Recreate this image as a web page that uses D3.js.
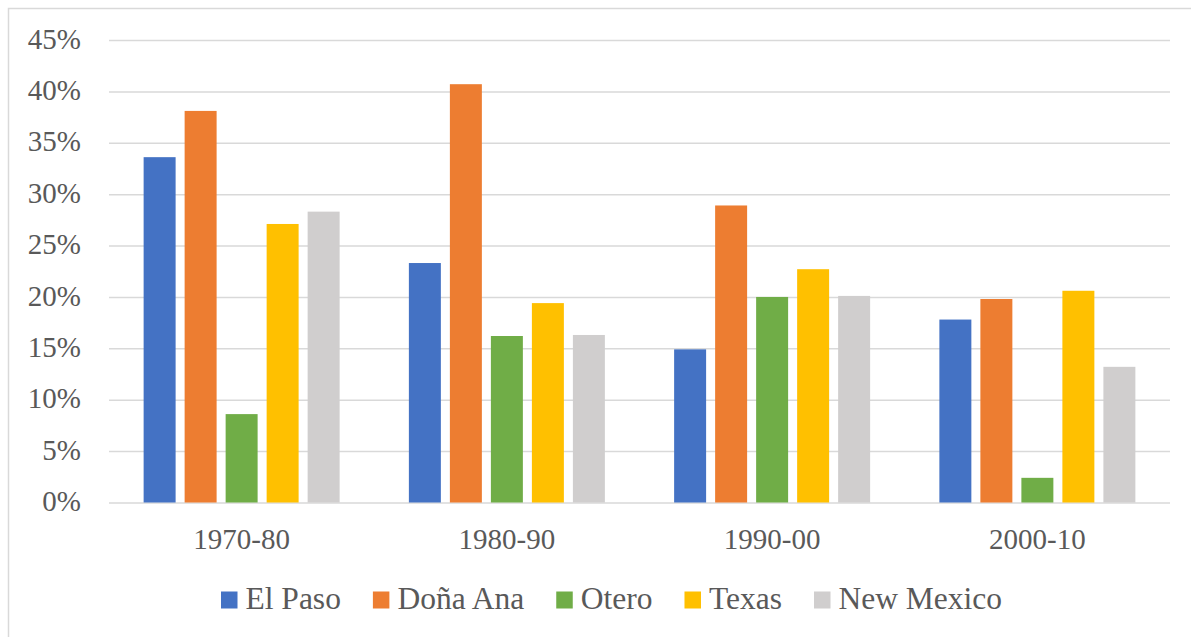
<!DOCTYPE html>
<html>
<head>
<meta charset="utf-8">
<script src="https://cdn.jsdelivr.net/npm/d3@7"></script>
<style>
  body { margin: 0; background: #fff; }
</style>
</head>
<body>
<div class="chart"></div>
<script>
// data
var periods = ["1970-80", "1980-90", "1990-00", "2000-10"];
var seriesNames = ["El Paso", "Doña Ana", "Otero", "Texas", "New Mexico"];
var seriesColors = ["#4472c4", "#ed7d31", "#70ad47", "#ffc000", "#d0cece"];
var elPaso    = [33.6, 23.3, 14.9, 17.8];
var donaAna   = [38.1, 40.7, 28.9, 19.8];
var otero     = [8.6, 16.2, 20.0, 2.4];
var texas     = [27.1, 19.4, 22.7, 20.6];
var newMexico = [28.3, 16.3, 20.1, 13.2];
var yTicks = [0, 5, 10, 15, 20, 25, 30, 35, 40, 45];

var values = [elPaso, donaAna, otero, texas, newMexico];

var serifFont = "Liberation Serif";

var svgWidth = 1191;
var svgHeight = 637;

// plot area
var margin = { top: 40, right: 21, bottom: 134.5, left: 109 };
var chartWidth = svgWidth - margin.left - margin.right;
var chartHeight = svgHeight - margin.top - margin.bottom;

var svg = d3.select(".chart")
  .append("svg")
  .attr("width", svgWidth)
  .attr("height", svgHeight);

// chart frame (only left and top edges are visible)
svg.append("rect")
  .attr("x", 8.5)
  .attr("y", 8.5)
  .attr("width", svgWidth + 20)
  .attr("height", svgHeight + 20)
  .attr("fill", "none")
  .attr("stroke", "#d9d9d9")
  .attr("stroke-width", 1.5);

var chartGroup = svg.append("g")
  .attr("transform", `translate(${margin.left}, ${margin.top})`);

var x0 = d3.scaleBand()
  .domain(periods)
  .range([0, chartWidth]);

var groupWidth = 196;
var x1 = d3.scaleBand()
  .domain(seriesNames)
  .range([0, groupWidth])
  .paddingInner(0.22);

var y = d3.scaleLinear()
  .domain([0, 45])
  .range([chartHeight, 0]);

// gridlines + percent labels
var leftAxis = d3.axisLeft(y)
  .tickValues(yTicks)
  .tickSize(-chartWidth)
  .tickPadding(28)
  .tickFormat(d => d + "%");

var yAxis = chartGroup.append("g")
  .classed("y-axis", true)
  .call(leftAxis)
  .attr("font-family", serifFont)
  .attr("font-size", 29);

yAxis.select(".domain").remove();
yAxis.selectAll("line")
  .attr("stroke", "#d9d9d9")
  .attr("stroke-width", 1.5);
yAxis.selectAll("text")
  .attr("font-family", serifFont)
  .attr("font-size", 29)
  .attr("dy", "0.28em")
  .attr("fill", "#595959");

// bars
var groups = chartGroup.selectAll(".period")
  .data(periods)
  .enter()
  .append("g")
  .classed("period", true)
  .attr("transform", d => `translate(${x0(d) + (x0.bandwidth() - groupWidth) / 2}, 0)`);

groups.selectAll("rect")
  .data((p, i) => seriesNames.map((s, j) => ({ series: s, color: seriesColors[j], value: values[j][i] })))
  .enter()
  .append("rect")
  .attr("x", d => x1(d.series))
  .attr("y", d => y(d.value))
  .attr("width", x1.bandwidth())
  .attr("height", d => chartHeight - y(d.value))
  .attr("fill", d => d.color);

// category labels
var bottomAxis = d3.axisBottom(x0)
  .tickSize(0)
  .tickPadding(26);

var xAxis = chartGroup.append("g")
  .classed("x-axis", true)
  .attr("transform", `translate(0, ${chartHeight})`)
  .call(bottomAxis)
  .attr("font-family", serifFont)
  .attr("font-size", 29);

xAxis.select(".domain").remove();
xAxis.selectAll("text")
  .attr("font-family", serifFont)
  .attr("font-size", 29)
  .attr("fill", "#595959");

// legend
var legend = svg.append("g")
  .attr("transform", "translate(221, 600)");

var cursor = 0;
seriesNames.forEach(function(name, i) {
  var item = legend.append("g").attr("transform", `translate(${cursor}, 0)`);
  item.append("rect")
    .attr("x", 0)
    .attr("y", -8.5)
    .attr("width", 16.5)
    .attr("height", 17)
    .attr("fill", seriesColors[i]);
  var label = item.append("text")
    .attr("x", 24.5)
    .attr("y", 9)
    .attr("font-family", serifFont)
    .attr("font-size", 31.5)
    .attr("fill", "#595959")
    .text(name);
  cursor += 24.5 + label.node().getComputedTextLength() + 32;
});
</script>
</body>
</html>
